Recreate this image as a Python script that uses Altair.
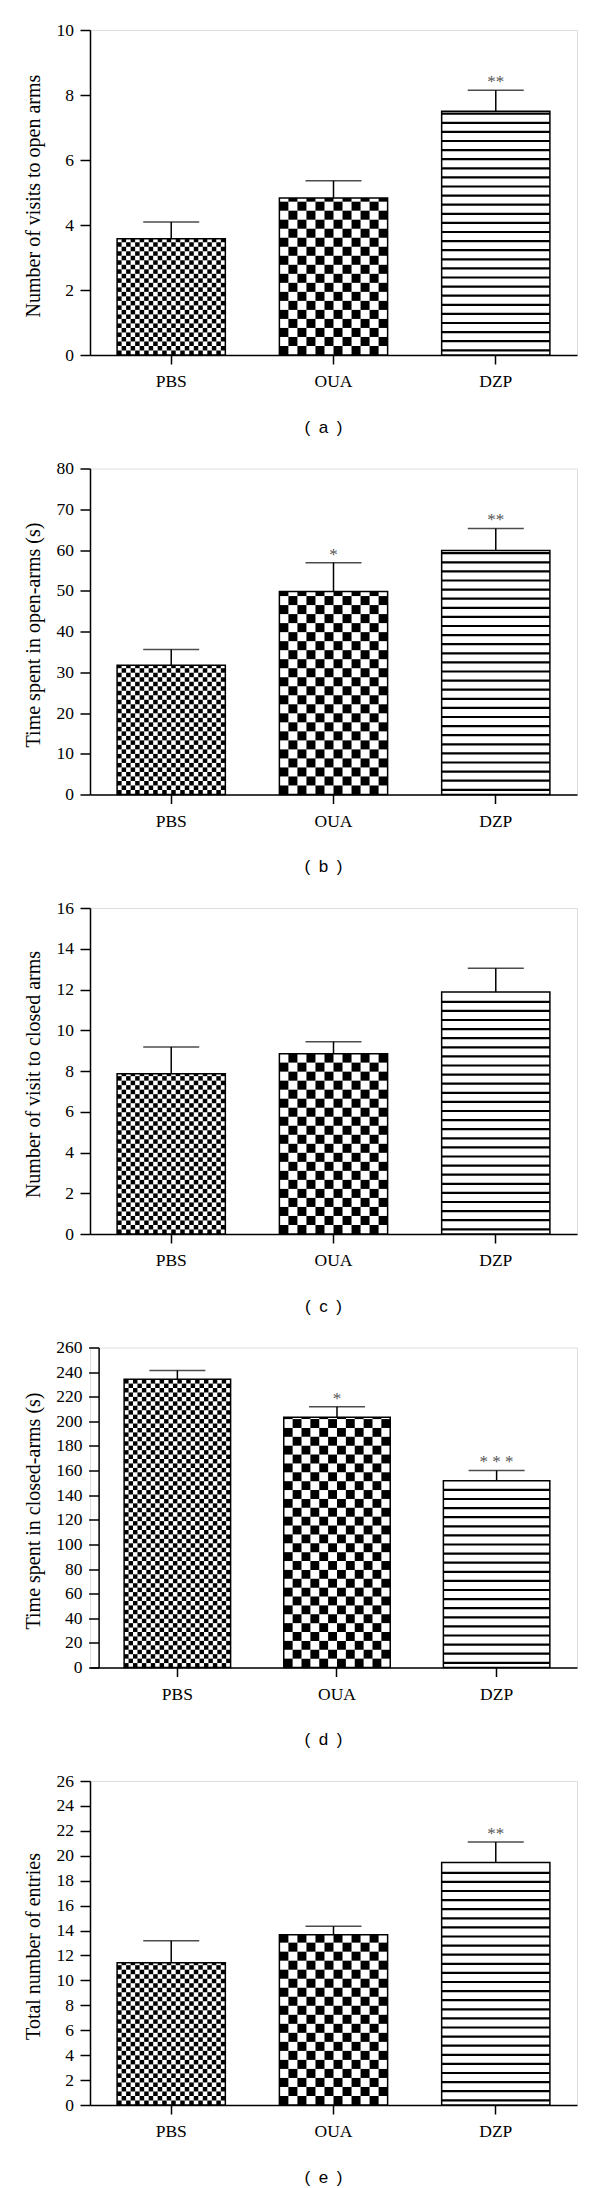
import altair as alt
import pandas as pd

groups = ["PBS", "OUA", "DZP"]

a_mean = [3.58, 4.83, 7.50]
a_err = [0.51, 0.53, 0.65]
a_star = ["", "", "**"]

b_mean = [31.7, 49.8, 59.9]
b_err = [3.9, 7.1, 5.4]
b_star = ["", "*", "**"]

c_mean = [7.87, 8.85, 11.88]
c_err = [1.31, 0.59, 1.16]
c_star = ["", "", ""]

d_mean = [234.3, 203.4, 151.7]
d_err = [7.0, 8.4, 8.4]
d_star = ["", "*", "* * *"]

e_mean = [11.42, 13.67, 19.45]
e_err = [1.77, 0.67, 1.65]
e_star = ["", "", "**"]

y_titles = [
    "Number of visits to open arms",
    "Time spent in open-arms (s)",
    "Number of visit to closed arms",
    "Time spent in closed-arms (s)",
    "Total number of entries",
]
captions = ["(\u2002a\u2002)", "(\u2002b\u2002)", "(\u2002c\u2002)", "(\u2002d\u2002)", "(\u2002e\u2002)"]
y_max = [10, 80, 16, 260, 26]
y_step = [2, 10, 2, 20, 2]

SERIF = "Liberation Serif"
W = 487
heights = [325, 326, 326, 320, 324]
PI = 0.333


def panel(means, errs, stars, ymax, ystep, ytitle, caption, H, po=0.167, align=0.5, yoff=0.0):
    step = W / (3 - PI + 2 * po)
    bw = step * (1 - PI)
    unit = ymax / H  # data units per pixel

    df = pd.DataFrame({
        "group": groups,
        "value": means,
        "top": [m + e for m, e in zip(means, errs)],
        "star": stars,
    })

    # pattern cells (decoration), built from bar values
    def checker(gname, value, ncols):
        cell = bw / ncols * unit
        rows = []
        k = 0
        while k * cell < value - 1e-9:
            y0 = k * cell
            y1 = min((k + 1) * cell, value)
            for c in range(ncols):
                if (k + c) % 2 == 0:
                    rows.append({"group": gname, "col": c, "y0": y0, "y1": y1})
            k += 1
        return pd.DataFrame(rows)

    pbs_df = checker("PBS", means[0], 24)
    oua_df = checker("OUA", means[1], 12)

    stripes = []
    sp = 9.1 * unit
    th = 2.2 * unit
    j = 0
    while (4.7 * unit + j * sp) + th / 2 < means[2] - 1e-9:
        c = 4.7 * unit + j * sp
        stripes.append({"group": "DZP", "y0": c - th / 2, "y1": c + th / 2})
        j += 1
    dzp_df = pd.DataFrame(stripes)

    xscale = alt.Scale(domain=groups, paddingInner=PI, paddingOuter=po, align=align)
    xaxis = alt.Axis(
        title=caption, labelAngle=0, labelFont=SERIF, labelFontSize=17.5, labelColor="black",
        labelPadding=8.5, tickSize=9, tickWidth=1.5, tickColor="black",
        domainColor="black", domainWidth=1.5,
        titleFont="Liberation Sans", titleFontSize=17, titleFontWeight="normal", titleColor="black",
        titleX=233, titleY=72, titleAlign="center", titleBaseline="middle", titleAngle=0,
    )
    yscale = alt.Scale(domain=[0, ymax], nice=False, zero=True)
    yaxis = alt.Axis(
        title=ytitle, values=list(range(0, ymax + 1, ystep)), grid=False, offset=yoff,
        labelFont=SERIF, labelFontSize=17.5, labelColor="black", labelPadding=6.5,
        tickSize=10, tickWidth=1.5, tickColor="black", domainColor="black", domainWidth=1.5,
        titleFont=SERIF, titleFontSize=20, titleFontWeight="normal", titleColor="black",
        titleX=38 - 89 - (-yoff), titleY=H / 2 + 3, titleAngle=270,
        titleAlign="center", titleBaseline="alphabetic",
    )

    def X():
        return alt.X("group:N", sort=groups, scale=xscale, axis=xaxis)

    def Y(f):
        return alt.Y(f, scale=yscale, axis=yaxis)

    base = alt.Chart(df)
    white = base.mark_bar(fill="white").encode(x=X(), y=Y("value:Q"))
    pbs = alt.Chart(pbs_df).mark_bar(fill="black").encode(
        x=X(),
        xOffset=alt.XOffset("col:O", scale=alt.Scale(domain=list(range(24)), paddingInner=0, paddingOuter=0)),
        y=Y("y0:Q"), y2="y1:Q",
    )
    oua = alt.Chart(oua_df).mark_bar(fill="black").encode(
        x=X(),
        xOffset=alt.XOffset("col:O", scale=alt.Scale(domain=list(range(12)), paddingInner=0, paddingOuter=0)),
        y=Y("y0:Q"), y2="y1:Q",
    )
    dzp = alt.Chart(dzp_df).mark_bar(fill="black").encode(x=X(), y=Y("y0:Q"), y2="y1:Q")
    outline = base.mark_bar(fillOpacity=0, stroke="black", strokeWidth=1.5).encode(x=X(), y=Y("value:Q"))
    rule = base.mark_rule(color="black", strokeWidth=1.5).encode(x=X(), y=Y("value:Q"), y2="top:Q")
    cap = base.mark_tick(color="black", thickness=1.5, size=56, orient="horizontal").encode(x=X(), y=Y("top:Q"))
    txt = base.mark_text(font=SERIF, fontSize=17, color="#555555", baseline="alphabetic", dy=-3).encode(
        x=X(), y=Y("top:Q"), text="star:N"
    )
    return alt.layer(white, pbs, oua, dzp, outline, rule, cap, txt).resolve_scale(
        xOffset="independent"
    ).properties(width=W, height=H)


panels = [
    panel(a_mean, a_err, a_star, y_max[0], y_step[0], y_titles[0], captions[0], heights[0]),
    panel(b_mean, b_err, b_star, y_max[1], y_step[1], y_titles[1], captions[1], heights[1]),
    panel(c_mean, c_err, c_star, y_max[2], y_step[2], y_titles[2], captions[2], heights[2]),
    panel(d_mean, d_err, d_star, y_max[3], y_step[3], y_titles[3], captions[3], heights[3],
          po=0.192, align=0.557, yoff=-8.6),
    panel(e_mean, e_err, e_star, y_max[4], y_step[4], y_titles[4], captions[4], heights[4]),
]

chart = alt.vconcat(*panels, spacing=113.5, bounds="flush").properties(
    padding={"left": 14, "top": 12, "right": 5, "bottom": 5}
).configure_view(stroke=None).configure(background="white")

chart.save("out.html", embed_options={"renderer": "svg", "actions": False})
